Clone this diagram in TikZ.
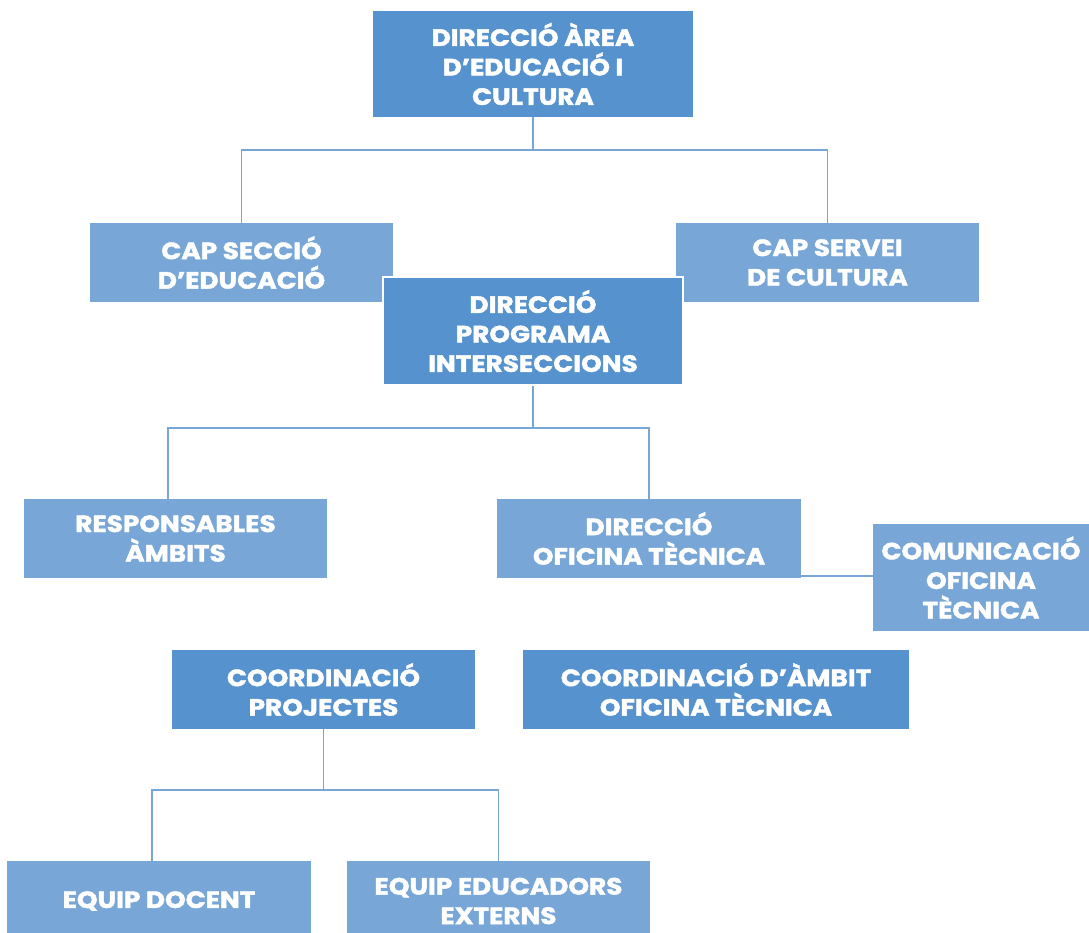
\documentclass[tikz,border=0pt]{standalone}
\usepackage{fontspec}
\setmainfont{Poppins}[BoldFeatures={FakeBold=1.8, FakeStretch=1.12}]
\definecolor{darkb}{HTML}{5592CE}
\definecolor{lightb}{HTML}{78A7D7}
\definecolor{linec}{HTML}{78A7D7}
\begin{document}
\begin{tikzpicture}[x=1pt,y=-1pt,
  box/.style={inner sep=0pt, align=center, text=white,
    font=\fontsize{23.5}{29.5}\selectfont\bfseries},
  dbox/.style={box, fill=darkb},
  lbox/.style={box, fill=lightb},
  conn/.style={draw=linec, line width=1.5pt}]
\useasboundingbox (0,0) rectangle (1089,933);
\node[dbox, minimum width=320pt, minimum height=106pt] (top) at (533,64) {DIRECCIÓ ÀREA\\D’EDUCACIÓ I\\CULTURA};
\node[lbox, minimum width=303pt, minimum height=79pt] (cse) at (241.5,262.5) {CAP SECCIÓ\\D’EDUCACIÓ};
\node[lbox, minimum width=303pt, minimum height=79pt] (csc) at (827.5,262.5) {CAP SERVEI\\DE CULTURA};
\node[dbox, draw=white, line width=2pt, minimum width=300pt, minimum height=108pt] (dpi) at (533,331) {DIRECCIÓ\\PROGRAMA\\INTERSECCIONS};
\node[lbox, minimum width=303pt, minimum height=79pt] (ra) at (175.5,538.5) {RESPONSABLES\\ÀMBITS};
\node[lbox, minimum width=304pt, minimum height=79pt] (dot) at (649,538.5) {DIRECCIÓ\\OFICINA TÈCNICA};
\node[lbox, minimum width=216pt, minimum height=107pt] (com) at (981,577.5) {COMUNICACIÓ\\OFICINA\\TÈCNICA};
\node[dbox, minimum width=303pt, minimum height=79pt] (cp) at (323.5,689.5) {COORDINACIÓ\\PROJECTES};
\node[dbox, minimum width=386pt, minimum height=79pt] (ca) at (716,689.5) {COORDINACIÓ D’ÀMBIT\\OFICINA TÈCNICA};
\node[lbox, minimum width=304pt, minimum height=80pt] (ed) at (159,901) {EQUIP DOCENT};
\node[lbox, minimum width=303pt, minimum height=80pt] (ee) at (498.5,901) {EQUIP EDUCADORS\\EXTERNS};
% connectors
\draw[conn] (top.south) -- ++(0,33) -| (cse.north);
\draw[conn] (top.south) ++(0,33) -| (csc.north);
\draw[conn] (dpi.south) -- ++(0,42) -| ([xshift=-7.5pt]ra.north);
\draw[conn] (dpi.south) ++(0,42) -| (dot.north);
\draw[conn] ([yshift=2pt]dot.south east) -- ([yshift=2pt]dot.south east -| com.west);
\draw[conn] (cp.south) -- ++(0,61) -| ([xshift=-7pt]ed.north);
\draw[conn] (cp.south) ++(0,61) -| (ee.north);
\end{tikzpicture}
\end{document}
